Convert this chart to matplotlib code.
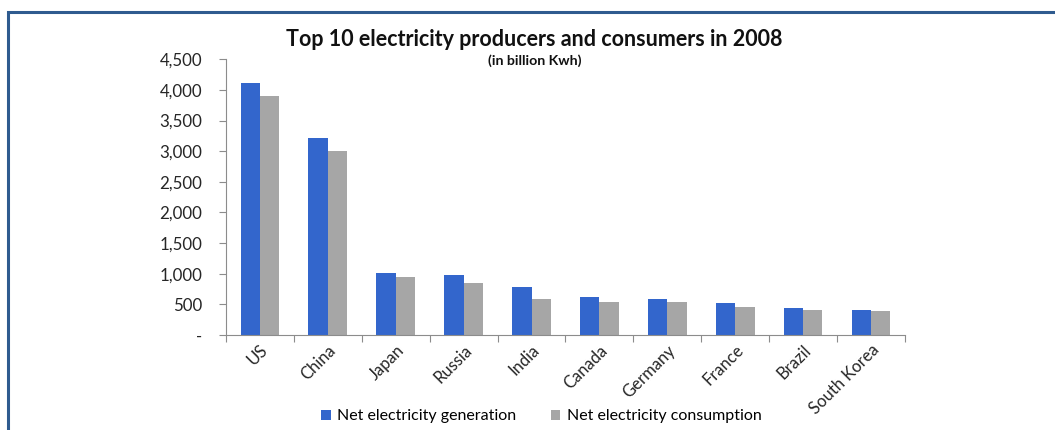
import numpy as np
from matplotlib import pyplot as plt
from matplotlib.patches import Rectangle
from matplotlib.ticker import FuncFormatter

countries = ["US", "China", "Japan", "Russia", "India", "Canada",
             "Germany", "France", "Brazil", "South Korea"]
generation = [4110, 3210, 1010, 985, 785, 625, 585, 530, 440, 410]
consumption = [3900, 3010, 955, 850, 590, 540, 540, 455, 410, 395]

blue = "#3366cc"
gray = "#a6a6a6"
axis_col = "#8c8c8c"

plt.rcParams['font.family'] = ['Lato', 'DejaVu Sans']

fig = plt.figure(figsize=(10.55, 4.30), dpi=100)
ax = fig.add_axes([0.2142, 0.2209, 0.6436, 0.6411])

x = np.arange(len(countries))
w = 0.285
ax.bar(x - w / 2, generation, w, color=blue, label="Net electricity generation")
ax.bar(x + w / 2, consumption, w, color=gray, label="Net electricity consumption")

ax.set_xlim(-0.5, len(countries) - 0.5)
ax.set_ylim(0, 4500)
ax.set_yticks(np.arange(0, 4501, 500))
ax.yaxis.set_major_formatter(FuncFormatter(lambda v, p: "-" if v == 0 else f"{int(v):,}"))

ax.set_xticks(np.arange(-0.5, len(countries), 1.0))
ax.set_xticklabels([])
ax.set_xticks(x, minor=True)
ax.set_xticklabels(countries, minor=True, rotation=45, ha='right',
                   rotation_mode='anchor', fontsize=12, color="#262626")
ax.tick_params(axis='x', which='minor', length=0, pad=5)
ax.tick_params(axis='x', which='major', length=5, color=axis_col, direction='out')
ax.tick_params(axis='y', length=5, color=axis_col, labelsize=12.2,
               labelcolor="#262626", pad=12)

for s in ['top', 'right']:
    ax.spines[s].set_visible(False)
for s in ['left', 'bottom']:
    ax.spines[s].set_color(axis_col)

fig.text(0.506, 0.908, "Top 10 electricity producers and consumers in 2008",
         ha='center', va='center', fontsize=15.5, fontweight='bold', color="#111111")
fig.text(0.507, 0.858, "(in billion Kwh)", ha='center', va='center',
         fontsize=10.2, fontweight='bold', color="#111111")

fig.legend(loc='center', bbox_to_anchor=(0.513, 0.032), ncol=2, frameon=False,
           fontsize=11.5, handlelength=0.6, handleheight=0.6, handletextpad=0.4,
           columnspacing=2.15)

fig.patches.append(Rectangle((7.5 / 1055, -0.05), 1.2, 1 - 11.5 / 430 + 0.05,
                             transform=fig.transFigure, fill=False,
                             edgecolor="#2f5b8f", linewidth=2.2))

fig.savefig("out.png", dpi=100)
